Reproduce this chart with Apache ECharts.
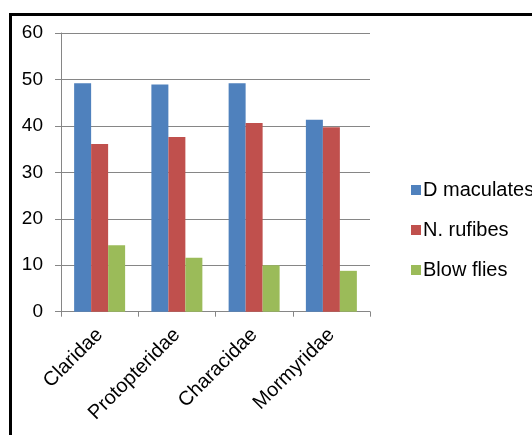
<!DOCTYPE html>
<html>
<head>
<meta charset="utf-8">
<script src="https://cdn.jsdelivr.net/npm/echarts@6/dist/echarts.min.js"></script>
<style>
html,body{margin:0;padding:0;background:#fff;}
#c{width:532px;height:435px;}
</style>
</head>
<body>
<div id="c"></div>
<script>
const categories = ['Claridae', 'Protopteridae', 'Characidae', 'Mormyridae'];
const dMaculates = [49.2, 48.9, 49.2, 41.3];
const nRufibes = [36.1, 37.6, 40.6, 39.7];
const blowFlies = [14.3, 11.6, 10.0, 8.8];
const seriesNames = ['D maculates', 'N. rufibes', 'Blow flies'];
const yTicks = { min: 0, max: 60, interval: 10 };

const font = 'Liberation Sans';
const chart = echarts.init(document.getElementById('c'), null, { renderer: 'canvas' });
chart.setOption({
  animation: false,
  backgroundColor: '#fff',
  textStyle: { fontFamily: font },
  graphic: [{
    type: 'rect',
    shape: { x: 10.5, y: 14.5, width: 700, height: 700 },
    style: { fill: 'none', stroke: '#000', lineWidth: 3 },
    silent: true
  }],
  grid: { left: 61, right: 162, top: 33, bottom: 123.3, containLabel: false },
  legend: {
    orient: 'vertical',
    left: 406,
    top: 175,
    itemWidth: 10,
    itemHeight: 10,
    itemGap: 20,
    icon: 'rect',
    data: seriesNames,
    textStyle: { fontFamily: font, fontSize: 20, color: '#000', lineHeight: 19, padding: [0, 0, 0, -3] }
  },
  xAxis: {
    type: 'category',
    data: categories,
    axisLine: { lineStyle: { color: '#868686', width: 1 } },
    axisTick: { show: true, length: 5, lineStyle: { color: '#868686' } },
    axisLabel: { interval: 0, rotate: 45, margin: 20, fontSize: 20, color: '#000', fontFamily: font }
  },
  yAxis: {
    type: 'value',
    min: yTicks.min,
    max: yTicks.max,
    interval: yTicks.interval,
    axisLine: { show: true, lineStyle: { color: '#868686', width: 1 } },
    axisTick: { show: true, length: 6, lineStyle: { color: '#868686' } },
    splitLine: { show: true, lineStyle: { color: '#868686', width: 1 } },
    axisLabel: { margin: 18, fontSize: 19, color: '#000', fontFamily: font }
  },
  series: [
    { name: seriesNames[0], type: 'bar', data: dMaculates, itemStyle: { color: '#4F81BD' }, barGap: '0%', barCategoryGap: '34%' },
    { name: seriesNames[1], type: 'bar', data: nRufibes, itemStyle: { color: '#C0504D' }, barGap: '0%', barCategoryGap: '34%' },
    { name: seriesNames[2], type: 'bar', data: blowFlies, itemStyle: { color: '#9BBB59' }, barGap: '0%', barCategoryGap: '34%' }
  ]
});
</script>
</body>
</html>
